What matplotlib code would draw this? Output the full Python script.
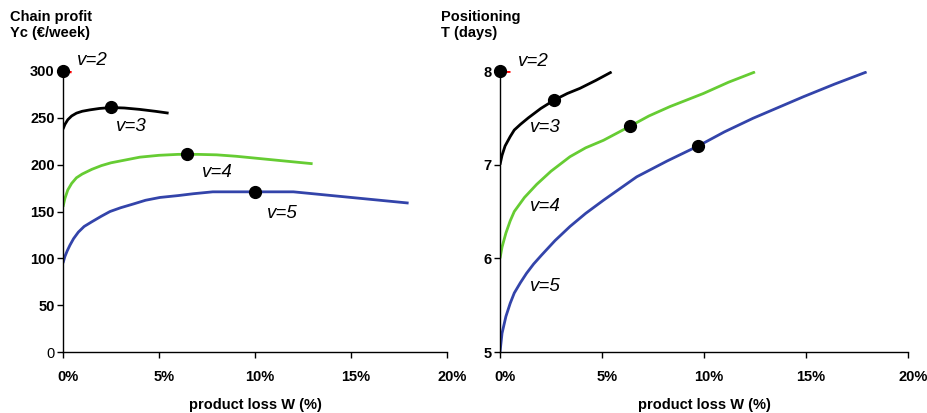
import matplotlib
matplotlib.use("Agg")
import matplotlib.pyplot as plt
import matplotlib.transforms as mtransforms

plt.rcParams['font.family'] = ['Liberation Sans', 'DejaVu Sans']

# ---- Left panel: chain profit Yc (euro/week) vs product loss W (%) ----
v2_w = [0.0, 0.45]
v2_yc = [300, 299]
v3_w = [0.0, 0.1, 0.25, 0.45, 0.7, 1.0, 1.4, 1.9, 2.5, 3.2, 4.0, 4.8, 5.5]
v3_yc = [238, 243, 248, 252, 255, 257, 258.5, 260, 261, 260.5, 259, 257, 255]
v4_w = [0.0, 0.1, 0.25, 0.45, 0.7, 1.0, 1.5, 2.0, 2.5, 3.0, 4.0, 5.0, 6.0, 7.0, 8.0, 9.0, 10.0, 11.0, 12.0, 13.0]
v4_yc = [155, 164, 173, 180, 186, 190, 195, 199, 202, 204, 208, 210, 211, 211, 210.5, 209, 207, 205, 203, 201]
v5_w = [0.0, 0.1, 0.22, 0.36, 0.55, 0.8, 1.1, 1.5, 2.0, 2.45, 3.0, 3.66, 4.3, 5.05, 6.0, 6.8, 7.8, 9.0, 10.0, 11.0, 12.0, 13.0, 14.0, 15.0, 16.0, 17.0, 18.0]
v5_yc = [95, 102, 108, 114, 121, 128, 134, 139, 145, 150, 154, 158, 162, 165, 167, 169, 171, 171, 171, 171, 171, 169, 167, 165, 163, 161, 159]
opt_w_left = [0.0, 2.5, 6.45, 10.0]
opt_yc = [300, 262, 211, 171]

# ---- Right panel: positioning T (days) vs product loss W (%) ----
t2_w = [0.0, 0.5]
t2_t = [8.0, 8.0]
t3_w = [0.0, 0.1, 0.25, 0.5, 0.7, 1.0, 1.39, 2.0, 2.66, 3.3, 3.92, 4.7, 5.47]
t3_t = [7.0, 7.1, 7.2, 7.3, 7.37, 7.43, 7.5, 7.6, 7.69, 7.76, 7.815, 7.9, 7.99]
t4_w = [0.0, 0.1, 0.29, 0.5, 0.7, 1.2, 1.8, 2.5, 3.43, 4.2, 5.07, 6.37, 7.3, 8.33, 9.97, 11.2, 12.5]
t4_t = [6.0, 6.12, 6.27, 6.4, 6.5, 6.65, 6.79, 6.93, 7.085, 7.18, 7.26, 7.41, 7.52, 7.62, 7.76, 7.88, 7.99]
t5_w = [0.0, 0.1, 0.29, 0.5, 0.7, 1.0, 1.3, 1.65, 2.04, 2.7, 3.43, 4.2, 5.07, 6.7, 8.2, 9.72, 11.0, 12.4, 14.87, 16.4, 17.97]
t5_t = [5.0, 5.2, 5.38, 5.52, 5.63, 5.74, 5.84, 5.94, 6.035, 6.19, 6.34, 6.48, 6.62, 6.87, 7.04, 7.2, 7.35, 7.495, 7.725, 7.86, 7.99]
opt_w_right = [0.0, 2.66, 6.37, 9.72]
opt_t = [8.0, 7.69, 7.41, 7.2]

x_ticks = [0, 5, 10, 15, 20]
x_ticklabels = ['0%', '5%', '10%', '15%', '20%']
yc_ticks = [0, 50, 100, 150, 200, 250, 300]
t_ticks = [5, 6, 7, 8]

RED = '#FF0000'
BLACK = '#000000'
GREEN = '#66CC33'
BLUE = '#3344AA'

fig = plt.figure(figsize=(9.28, 4.13), dpi=100)
axL = fig.add_axes([63/928, 1-352/413, (447-63)/928, (352-71)/413])
axR = fig.add_axes([500/928, 1-352/413, (908-500)/928, (352-71)/413])

lw = 2.0
axL.plot(v3_w, v3_yc, color=BLACK, lw=lw, solid_capstyle='butt')
axL.plot(v4_w, v4_yc, color=GREEN, lw=lw, solid_capstyle='butt')
axL.plot(v5_w, v5_yc, color=BLUE, lw=lw, solid_capstyle='butt')
axL.plot(v2_w, v2_yc, color=RED, lw=lw, solid_capstyle='butt')
axL.plot(opt_w_left, opt_yc, 'o', color='black', ms=8.5, zorder=5, clip_on=False)

axR.plot(t3_w, t3_t, color=BLACK, lw=lw, solid_capstyle='butt')
axR.plot(t4_w, t4_t, color=GREEN, lw=lw, solid_capstyle='butt')
axR.plot(t5_w, t5_t, color=BLUE, lw=lw, solid_capstyle='butt')
axR.plot(t2_w, t2_t, color=RED, lw=lw, solid_capstyle='butt')
axR.plot(opt_w_right, opt_t, 'o', color='black', ms=8.5, zorder=5, clip_on=False)

for ax in (axL, axR):
    ax.set_xlim(0, 20)
    ax.spines['top'].set_visible(False)
    ax.spines['right'].set_visible(False)
    ax.spines['left'].set_linewidth(1.0)
    ax.spines['bottom'].set_linewidth(1.0)
    ax.set_xticks(x_ticks)
    ax.set_xticklabels(x_ticklabels, fontweight='bold', fontsize=10.5)
    ax.tick_params(axis='both', direction='out', length=4, width=1.0, pad=2)
    ax.tick_params(axis='x', pad=9)
    ax.set_xlabel('product loss W (%)', fontweight='bold', fontsize=10.5, labelpad=10)
    ax.patch.set_visible(False)

axL.set_ylim(0, 300)
axL.set_yticks(yc_ticks)
axL.set_yticklabels([str(v) for v in yc_ticks], fontweight='bold', fontsize=10.5)
axL.get_yticklabels()[0].set_fontweight('normal')
axR.set_ylim(5, 8)
axR.set_yticks(t_ticks)
axR.set_yticklabels([str(v) for v in t_ticks], fontweight='bold', fontsize=10.5)

# shift x tick labels slightly right, like the original
offset = mtransforms.ScaledTranslation(5/100, 0, fig.dpi_scale_trans)
for ax in (axL, axR):
    for lbl in ax.get_xticklabels():
        lbl.set_transform(lbl.get_transform() + offset)

# axis titles
fig.text(10/928, 1-10/413, 'Chain profit\nYc (€/week)', ha='left', va='top',
         fontweight='bold', fontsize=10.5, linespacing=1.2)
fig.text(441/928, 1-10/413, 'Positioning\nT (days)', ha='left', va='top',
         fontweight='bold', fontsize=10.5, linespacing=1.2)

# curve labels
lab_kw = dict(fontsize=13.5, fontstyle='italic', ha='left', va='center')
axL.text(0.75, 311, 'v=2', **lab_kw)
axL.text(2.75, 241, 'v=3', **lab_kw)
axL.text(7.25, 192, 'v=4', **lab_kw)
axL.text(10.6, 148, 'v=5', **lab_kw)
axR.text(0.9, 8.1, 'v=2', **lab_kw)
axR.text(1.45, 7.4, 'v=3', **lab_kw)
axR.text(1.45, 6.55, 'v=4', **lab_kw)
axR.text(1.45, 5.7, 'v=5', **lab_kw)

fig.savefig('out.png', dpi=100)
